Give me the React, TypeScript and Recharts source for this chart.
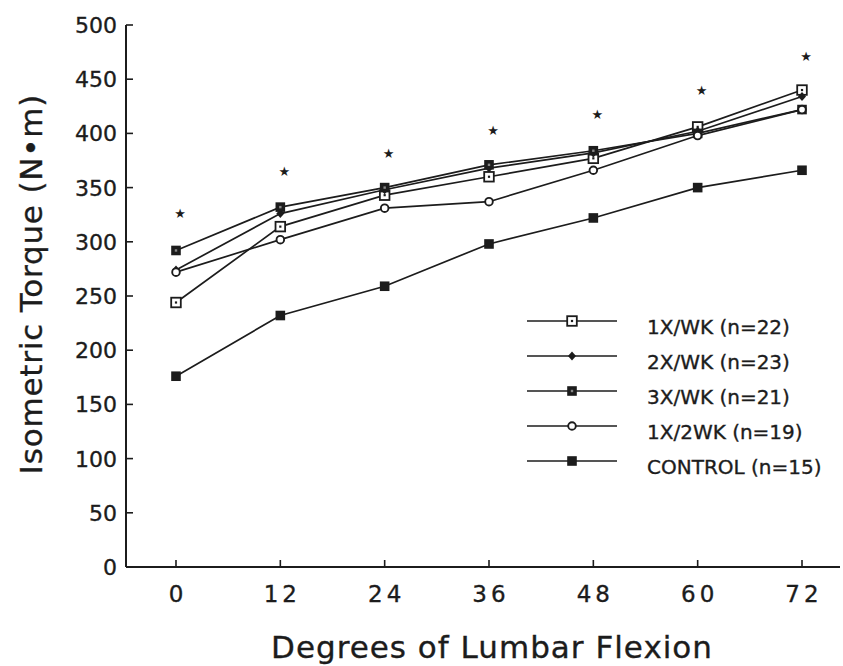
import React from 'react';
import { ComposedChart, Line, XAxis, YAxis } from 'recharts';

const degrees = [0, 12, 24, 36, 48, 60, 72];
const oneWk = [244, 314, 343, 360, 377, 406, 440];
const twoWk = [274, 326, 348, 368, 382, 402, 434];
const threeWk = [292, 332, 350, 371, 384, 400, 422];
const oneTwoWk = [272, 302, 331, 337, 366, 398, 422];
const control = [176, 232, 259, 298, 322, 350, 366];
const significance = [327, 365, 382, 403, 418, 440, 471];
const yTicks = [0, 50, 100, 150, 200, 250, 300, 350, 400, 450, 500];
const seriesNames = ['1X/WK (n=22)', '2X/WK (n=23)', '3X/WK (n=21)', '1X/2WK (n=19)', 'CONTROL (n=15)'];
const xTitle = 'Degrees of Lumbar Flexion';
const yTitle = 'Isometric Torque (N•m)';

const INK = '#1c1c1c';
const FONT = '"DejaVu Sans", "Liberation Sans", sans-serif';
const TEXT_STROKE = { stroke: INK, strokeWidth: 0.35 };

const data = degrees.map((d, i) => ({
  deg: d,
  w1: oneWk[i],
  w2: twoWk[i],
  w3: threeWk[i],
  w12: oneTwoWk[i],
  ctrl: control[i],
  star: significance[i],
}));

type MP = { cx: number; cy: number };

const OpenSquare = ({ cx, cy }: MP) => (
  <g>
    <rect x={cx - 4.8} y={cy - 4.8} width={9.6} height={9.6} fill="#fff" stroke={INK} strokeWidth={1.8} />
    <rect x={cx - 1.1} y={cy - 1.1} width={2.2} height={2.2} fill={INK} />
  </g>
);
const Diamond = ({ cx, cy }: MP) => (
  <path d={`M${cx},${cy - 4.5} L${cx + 4},${cy} L${cx},${cy + 4.5} L${cx - 4},${cy} Z`} fill={INK} />
);
const DarkSquare = ({ cx, cy }: MP) => (
  <g>
    <rect x={cx - 4.8} y={cy - 4.8} width={9.6} height={9.6} fill={INK} />
    <rect x={cx - 1.2} y={cy - 1.2} width={2.4} height={2.4} fill="#888" />
  </g>
);
const OpenCircle = ({ cx, cy }: MP) => (
  <circle cx={cx} cy={cy} r={3.8} fill="#fff" stroke={INK} strokeWidth={1.9} />
);
const SolidSquare = ({ cx, cy }: MP) => (
  <rect x={cx - 4.8} y={cy - 4.8} width={9.6} height={9.6} fill={INK} />
);

const markers = [OpenSquare, Diamond, DarkSquare, OpenCircle, SolidSquare];
const keys = ['w1', 'w2', 'w3', 'w12', 'ctrl'];

const makeDot = (M: any) => (p: any) => {
  if (p.cx == null || p.cy == null) return <g key={p.index} />;
  return <M key={p.index} cx={p.cx} cy={p.cy} />;
};

const starDot = (p: any) => {
  if (p.cx == null || p.cy == null) return <g key={p.index} />;
  return (
    <text key={p.index} x={p.cx + 4} y={p.cy + 5} textAnchor="middle" fontSize={13} fill={INK} fontFamily={FONT}>
      ★
    </text>
  );
};

const XTick = (p: any) => {
  const { x, y, payload } = p;
  return (
    <g>
      <line x1={x} y1={y} x2={x} y2={y - 7} stroke={INK} strokeWidth={1.6} />
      <text x={x + 2} y={y + 35} textAnchor="middle" fontSize={23} letterSpacing={4} fill={INK} fontFamily={FONT} {...TEXT_STROKE}>
        {payload.value}
      </text>
    </g>
  );
};

const YTick = (p: any) => {
  const { x, y, payload } = p;
  return (
    <g>
      <line x1={x} y1={y} x2={x + 7} y2={y} stroke={INK} strokeWidth={1.6} />
      <text x={x - 9} y={y + 8} textAnchor="end" fontSize={22} fill={INK} fontFamily={FONT} {...TEXT_STROKE}>
        {payload.value}
      </text>
    </g>
  );
};

const LegendBox = () => (
  <svg width={320} height={190} style={{ position: 'absolute', left: 520, top: 300 }}>
    {seriesNames.map((name, i) => {
      const M = markers[i];
      const y = 21 + 35 * i;
      return (
        <g key={name}>
          <line x1={7} y1={y} x2={97} y2={y} stroke={INK} strokeWidth={1.7} />
          <M cx={52} cy={y} />
          <text x={127} y={y + 13} fontSize={20} fill={INK} fontFamily={FONT} {...TEXT_STROKE}>
            {name}
          </text>
        </g>
      );
    })}
  </svg>
);

export default function App() {
  return (
    <div style={{ position: 'absolute', left: 0, top: 0, width: 843, height: 666, background: '#fff' }}>
      <ComposedChart width={843} height={666} data={data} margin={{ top: 25, right: 3, left: 56, bottom: 0 }}>
        <XAxis
          dataKey="deg"
          type="number"
          domain={[-5.75, 76.37]}
          ticks={degrees}
          allowDataOverflow
          interval={0}
          height={99}
          tickSize={0}
          tickMargin={0}
          tickLine={false}
          axisLine={{ stroke: INK, strokeWidth: 2 }}
          tick={XTick}
          label={{
            content: () => (
              <text x={492} y={658} textAnchor="middle" fontSize={31} letterSpacing={1} fill={INK} fontFamily={FONT} {...TEXT_STROKE}>
                {xTitle}
              </text>
            ),
          }}
        />
        <YAxis
          type="number"
          domain={[0, 500]}
          ticks={yTicks}
          interval={0}
          width={70}
          tickSize={0}
          tickMargin={0}
          tickLine={false}
          axisLine={{ stroke: INK, strokeWidth: 2 }}
          tick={YTick}
          label={{
            content: () => (
              <text
                transform="translate(42,284) rotate(-90)"
                textAnchor="middle"
                fontSize={31}
                letterSpacing={0.8}
                fill={INK}
                fontFamily={FONT}
                {...TEXT_STROKE}
              >
                {yTitle}
              </text>
            ),
          }}
        />
        {keys.map((k, i) => (
          <Line
            key={k}
            dataKey={k}
            name={seriesNames[i]}
            stroke={INK}
            strokeWidth={1.7}
            dot={makeDot(markers[i])}
            activeDot={false}
            isAnimationActive={false}
          />
        ))}
        <Line
          dataKey="star"
          stroke="none"
          legendType="none"
          dot={starDot}
          activeDot={false}
          isAnimationActive={false}
        />
      </ComposedChart>
      <LegendBox />
    </div>
  );
}
